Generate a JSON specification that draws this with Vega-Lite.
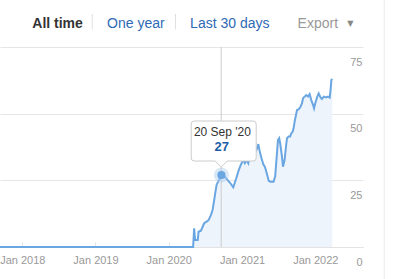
{
  "$schema": "https://vega.github.io/schema/vega-lite/v6.json",
  "width": 363,
  "height": 200,
  "autosize": {"type": "none"},
  "padding": {"left": 0, "top": 47, "right": 30, "bottom": 32},
  "background": "white",
  "config": {"view": {"stroke": null}, "font": "Liberation Sans"},
  "data": {"values": [
    {"date":"2017-09-12","value":0},
    {"date":"2020-05-02","value":0},
    {"date":"2020-05-07","value":7},
    {"date":"2020-05-12","value":2.6},
    {"date":"2020-05-25","value":2.6},
    {"date":"2020-05-29","value":5.7},
    {"date":"2020-06-10","value":6.1},
    {"date":"2020-06-26","value":8.9},
    {"date":"2020-07-08","value":9.5},
    {"date":"2020-07-18","value":10.1},
    {"date":"2020-07-30","value":12},
    {"date":"2020-08-07","value":13.9},
    {"date":"2020-08-15","value":17.6},
    {"date":"2020-08-20","value":20.1},
    {"date":"2020-08-27","value":23.3},
    {"date":"2020-09-04","value":24.5},
    {"date":"2020-09-20","value":27},
    {"date":"2020-10-05","value":26.5},
    {"date":"2020-10-20","value":25.2},
    {"date":"2020-11-03","value":24},
    {"date":"2020-11-18","value":22.4},
    {"date":"2020-12-02","value":25.5},
    {"date":"2020-12-14","value":28.5},
    {"date":"2020-12-24","value":30.5},
    {"date":"2021-01-06","value":32.6},
    {"date":"2021-01-15","value":31.4},
    {"date":"2021-01-24","value":32.6},
    {"date":"2021-02-01","value":31.4},
    {"date":"2021-02-09","value":34.5},
    {"date":"2021-02-18","value":33.3},
    {"date":"2021-02-26","value":36.2},
    {"date":"2021-03-06","value":35.4},
    {"date":"2021-03-15","value":36.6},
    {"date":"2021-03-23","value":38.6},
    {"date":"2021-03-31","value":35.5},
    {"date":"2021-04-09","value":33},
    {"date":"2021-04-17","value":31},
    {"date":"2021-04-25","value":30},
    {"date":"2021-05-01","value":28.5},
    {"date":"2021-05-08","value":26.5},
    {"date":"2021-05-14","value":24.8},
    {"date":"2021-05-21","value":24.5},
    {"date":"2021-06-07","value":24.5},
    {"date":"2021-06-15","value":26.4},
    {"date":"2021-06-24","value":35.1},
    {"date":"2021-06-29","value":40.1},
    {"date":"2021-07-05","value":40.8},
    {"date":"2021-07-10","value":38.9},
    {"date":"2021-07-19","value":33.9},
    {"date":"2021-07-24","value":30.1},
    {"date":"2021-08-01","value":32.6},
    {"date":"2021-08-08","value":37.6},
    {"date":"2021-08-13","value":40.8},
    {"date":"2021-08-21","value":41.4},
    {"date":"2021-08-29","value":41.4},
    {"date":"2021-09-03","value":42.6},
    {"date":"2021-09-10","value":43.2},
    {"date":"2021-09-15","value":44.5},
    {"date":"2021-09-20","value":47},
    {"date":"2021-09-27","value":49.5},
    {"date":"2021-10-02","value":51.4},
    {"date":"2021-10-10","value":51.6},
    {"date":"2021-10-18","value":52.4},
    {"date":"2021-10-27","value":53.9},
    {"date":"2021-11-01","value":55.8},
    {"date":"2021-11-09","value":56.4},
    {"date":"2021-11-17","value":57},
    {"date":"2021-11-26","value":56.4},
    {"date":"2021-12-04","value":57.3},
    {"date":"2021-12-12","value":55.1},
    {"date":"2021-12-21","value":53.3},
    {"date":"2021-12-26","value":52},
    {"date":"2022-01-01","value":53.9},
    {"date":"2022-01-11","value":56.4},
    {"date":"2022-01-18","value":57.6},
    {"date":"2022-01-28","value":56},
    {"date":"2022-02-03","value":55.5},
    {"date":"2022-02-13","value":56.4},
    {"date":"2022-02-25","value":56.1},
    {"date":"2022-03-05","value":56.4},
    {"date":"2022-03-14","value":56},
    {"date":"2022-03-19","value":59.5},
    {"date":"2022-03-22","value":62.6},
    {"date":"2022-03-27","value":63}
  ]},
  "layer": [
    {
      "mark": {"type": "area", "color": "#eef4fc", "opacity": 1},
      "encoding": {
        "x": {"field": "date", "type": "temporal",
          "scale": {"type": "utc", "domain": [{"year":2017,"month":9,"date":12,"utc":true},{"year":2022,"month":8,"date":27,"utc":true}]},
          "axis": {"title": null, "format": "%b %Y", "tickCount": {"interval": "year", "step": 1}, "grid": false,
            "tickSize": -5, "tickColor": "#e3e3e3", "domainColor": "#e3e3e3", "labelColor": "#999999", "labelFontSize": 11,
            "labelPadding": 12, "labelFlush": false, "labelOverlap": false}},
        "y": {"field": "value", "type": "quantitative",
          "scale": {"domain": [0, 75], "nice": false, "zero": true},
          "axis": {"title": null, "orient": "right", "values": [0, 25, 50, 75], "domain": false, "ticks": false,
            "grid": true, "gridColor": "#e6e6e6", "labelAlign": "right", "labelPadding": -1, "labelBaseline": "middle",
            "labelOffset": 15, "labelColor": "#999999", "labelFontSize": 11}}
      }
    },
    {
      "data": {"values": [{}]},
      "mark": {"type": "rule", "color": "#cccccc", "strokeWidth": 1},
      "encoding": {
        "x": {"datum": {"year":2020,"month":9,"date":19,"utc":true}, "type": "temporal"},
        "y": {"datum": 0, "type": "quantitative"},
        "y2": {"datum": 75}
      }
    },
    {
      "mark": {"type": "line", "color": "#6aa6e1", "strokeWidth": 2},
      "encoding": {
        "x": {"field": "date", "type": "temporal"},
        "y": {"field": "value", "type": "quantitative"}
      }
    },
    {
      "data": {"values": [{}]},
      "mark": {"type": "point", "shape": "circle", "filled": true, "color": "#a9cbed", "opacity": 0.45, "size": 230},
      "encoding": {
        "x": {"datum": {"year":2020,"month":9,"date":20,"utc":true}, "type": "temporal"},
        "y": {"datum": 27, "type": "quantitative"}
      }
    },
    {
      "data": {"values": [{}]},
      "mark": {"type": "point", "shape": "circle", "filled": true, "color": "#6aa6e1", "opacity": 1, "size": 66},
      "encoding": {
        "x": {"datum": {"year":2020,"month":9,"date":20,"utc":true}, "type": "temporal"},
        "y": {"datum": 27, "type": "quantitative"}
      }
    },
    {
      "data": {"values": [{}]},
      "mark": {"type": "point", "shape": "M-27,-40 L32,-40 Q35,-40 35,-37 L35,-3 Q35,0 32,0 L6,0 L0,6 L-6,0 L-27,0 Q-30,0 -30,-3 L-30,-37 Q-30,-40 -27,-40 Z",
        "size": 4, "filled": true, "fill": "white", "stroke": "#cccccc", "strokeWidth": 1, "opacity": 1},
      "encoding": {
        "x": {"datum": {"year":2020,"month":9,"date":19,"utc":true}, "type": "temporal"},
        "y": {"datum": 32.25, "type": "quantitative"}
      }
    },
    {
      "data": {"values": [{}]},
      "mark": {"type": "text", "text": "20 Sep '20", "fontSize": 12, "color": "#333333", "align": "center", "baseline": "alphabetic"},
      "encoding": {
        "x": {"datum": {"year":2020,"month":9,"date":25,"utc":true}, "type": "temporal"},
        "y": {"datum": 41.8, "type": "quantitative"}
      }
    },
    {
      "data": {"values": [{}]},
      "mark": {"type": "text", "text": "27", "fontSize": 13, "fontWeight": "bold", "color": "#1d5ea8", "align": "center", "baseline": "alphabetic"},
      "encoding": {
        "x": {"datum": {"year":2020,"month":9,"date":22,"utc":true}, "type": "temporal"},
        "y": {"datum": 36, "type": "quantitative"}
      }
    },
    {
      "data": {"values": [{}]},
      "mark": {"type": "text", "text": "All time", "fontSize": 14, "fontWeight": "bold", "color": "#333333", "align": "left", "baseline": "alphabetic"},
      "encoding": {
        "x": {"datum": {"year":2018,"month":2,"date":20,"utc":true}, "type": "temporal"},
        "y": {"datum": 82.2, "type": "quantitative"}
      }
    },
    {
      "data": {"values": [{}]},
      "mark": {"type": "rule", "color": "#e0e0e0", "strokeWidth": 1},
      "encoding": {
        "x": {"datum": {"year":2018,"month":12,"date":16,"utc":true}, "type": "temporal"},
        "y": {"datum": 87.4, "type": "quantitative"},
        "y2": {"datum": 81.6}
      }
    },
    {
      "data": {"values": [{}]},
      "mark": {"type": "text", "text": "One year", "fontSize": 14, "color": "#2f6ab5", "align": "left", "baseline": "alphabetic"},
      "encoding": {
        "x": {"datum": {"year":2019,"month":2,"date":28,"utc":true}, "type": "temporal"},
        "y": {"datum": 82.2, "type": "quantitative"}
      }
    },
    {
      "data": {"values": [{}]},
      "mark": {"type": "rule", "color": "#e0e0e0", "strokeWidth": 1},
      "encoding": {
        "x": {"datum": {"year":2020,"month":2,"date":4,"utc":true}, "type": "temporal"},
        "y": {"datum": 87.4, "type": "quantitative"},
        "y2": {"datum": 81.6}
      }
    },
    {
      "data": {"values": [{}]},
      "mark": {"type": "text", "text": "Last 30 days", "fontSize": 14, "color": "#2f6ab5", "align": "left", "baseline": "alphabetic"},
      "encoding": {
        "x": {"datum": {"year":2020,"month":4,"date":17,"utc":true}, "type": "temporal"},
        "y": {"datum": 82.2, "type": "quantitative"}
      }
    },
    {
      "data": {"values": [{}]},
      "mark": {"type": "text", "text": "Export", "fontSize": 14, "color": "#999999", "align": "left", "baseline": "alphabetic"},
      "encoding": {
        "x": {"datum": {"year":2021,"month":10,"date":5,"utc":true}, "type": "temporal"},
        "y": {"datum": 82.2, "type": "quantitative"}
      }
    },
    {
      "data": {"values": [{}]},
      "mark": {"type": "text", "text": "▼", "font": "DejaVu Sans", "fontSize": 8, "color": "#888888", "align": "center", "baseline": "middle"},
      "encoding": {
        "x": {"datum": {"year":2022,"month":6,"date":25,"utc":true}, "type": "temporal"},
        "y": {"datum": 83.8, "type": "quantitative"}
      }
    },
    {
      "data": {"values": [{}]},
      "mark": {"type": "rule", "color": "#ebebeb", "strokeWidth": 1},
      "encoding": {
        "x": {"datum": {"year":2022,"month":12,"date":11,"utc":true}, "type": "temporal"},
        "y": {"datum": 93, "type": "quantitative"},
        "y2": {"datum": -12}
      }
    }
  ]
}
